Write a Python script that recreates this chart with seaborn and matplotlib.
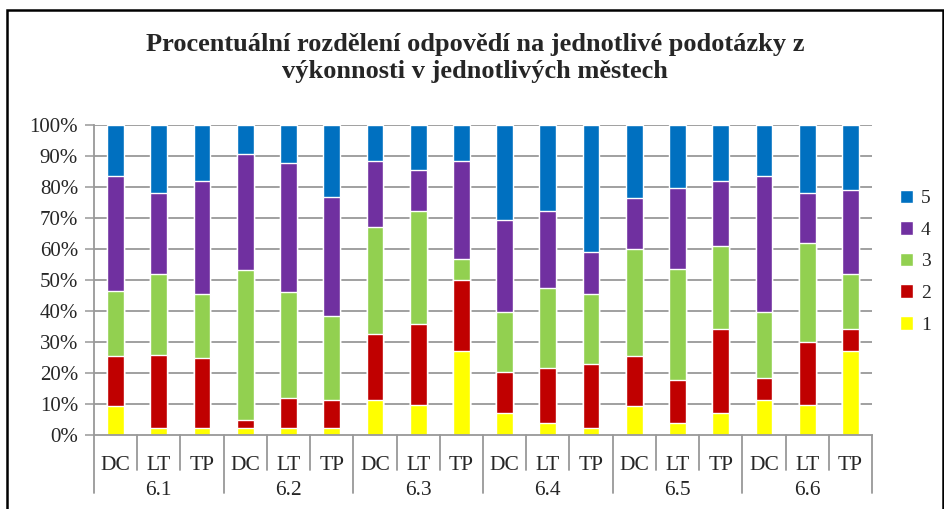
import numpy as np
import pandas as pd
import matplotlib
matplotlib.use("Agg")
import matplotlib.pyplot as plt
import matplotlib.transforms as mtrans
from matplotlib.patches import Patch, Rectangle
import seaborn as sns

questions = ["6.1", "6.2", "6.3", "6.4", "6.5", "6.6"]
cities = ["DC", "LT", "TP"]

# share of answers (%) per bar: 6.1 DC, 6.1 LT, 6.1 TP, 6.2 DC, ... 6.6 TP
ans1 = [9.4, 2.2, 2.2, 2.2, 2.2, 2.2, 11.4, 9.8, 27.2, 7.0, 3.8, 2.2, 9.2, 3.8, 7.0, 11.4, 9.8, 27.2]
ans2 = [16.1, 23.6, 22.6, 2.6, 9.6, 9.2, 21.1, 26.0, 22.7, 13.4, 17.7, 20.6, 16.3, 14.0, 27.2, 7.1, 20.1, 7.0]
ans3 = [21.0, 26.1, 20.7, 48.3, 34.3, 27.0, 34.7, 36.4, 7.0, 19.2, 26.0, 22.7, 34.6, 35.7, 26.9, 21.1, 31.9, 17.7]
ans4 = [37.0, 26.3, 36.4, 37.4, 41.7, 38.5, 21.1, 13.4, 31.4, 29.9, 24.7, 13.6, 16.5, 26.1, 20.8, 43.9, 16.3, 27.2]
ans5 = [16.5, 21.8, 18.1, 9.5, 12.2, 23.1, 11.7, 14.4, 11.7, 30.5, 27.8, 40.9, 23.4, 20.4, 18.1, 16.5, 21.9, 20.9]

answer_labels = ["1", "2", "3", "4", "5"]
colors = ["#FFFF00", "#C00000", "#92D050", "#7030A0", "#0070C0"]

cats = [f"{q} {c}" for q in questions for c in cities]
shares = np.array([ans1, ans2, ans3, ans4, ans5])
shares = shares / shares.sum(axis=0) * 100
cum = np.cumsum(shares, axis=0)
df = pd.DataFrame(cum.T, columns=answer_labels)
df["cat"] = cats

sns.set_style("white")
plt.rcParams["font.family"] = ["Liberation Serif", "DejaVu Serif"]

fig = plt.figure(figsize=(9.45, 5.09), dpi=100)
ax = fig.add_axes([94 / 945, 74 / 509, 778 / 945, 310 / 509])

grid_col = "#999999"
for y in range(10, 101, 10):
    ax.axhline(y, color=grid_col, lw=1.3, zorder=0)

# stacked bars: draw cumulative totals from top segment down
for i in range(4, -1, -1):
    sns.barplot(data=df, x="cat", y=answer_labels[i], order=cats, color=colors[i],
                saturation=1, width=0.39, errorbar=None, ax=ax, zorder=2)

ax.set_xlim(-0.5, len(cats) - 0.5)
ax.set_ylim(0, 100)
ax.set_yticks(range(0, 101, 10))
ax.set_yticklabels([f"{v}%" for v in range(0, 101, 10)], fontsize=15)
ax.tick_params(axis="y", direction="out", length=6.5, width=1.1, color=grid_col, pad=5, left=True)
ax.set_xticks([])
ax.set_xlabel("")
ax.set_ylabel("")
for s in ["top", "right"]:
    ax.spines[s].set_visible(False)
for s in ["left", "bottom"]:
    ax.spines[s].set_color(grid_col)
    ax.spines[s].set_linewidth(1.3)

tr = mtrans.blended_transform_factory(ax.transData, ax.transAxes)
for k in range(len(cats) + 1):
    depth = -0.187 if k % 3 == 0 else -0.113
    ax.plot([k - 0.5, k - 0.5], [0, depth], transform=tr, clip_on=False,
            color=grid_col, lw=1.3)
for i, c in enumerate(cats):
    ax.text(i, -0.113, c.split()[1], transform=tr, ha="center", va="baseline", fontsize=15.5)
for g, q in enumerate(questions):
    ax.text(g * 3 + 1, -0.194, q, transform=tr, ha="center", va="baseline", fontsize=15.5)

handles = [Patch(facecolor=colors[i], label=answer_labels[i]) for i in range(4, -1, -1)]
fig.legend(handles=handles, loc="center left", bbox_to_anchor=(0.952, 0.486),
           frameon=False, fontsize=14, handlelength=0.7, handleheight=0.7,
           handletextpad=0.4, labelspacing=0.72, borderaxespad=0, borderpad=0)

fig.text(475 / 945, 1 - 58 / 509,
         "Procentuální rozdělení odpovědí na jednotlivé podotázky z\nvýkonnosti v jednotlivých městech",
         ha="center", va="center", fontsize=19, fontweight="bold", linespacing=1.25)

fig.add_artist(Rectangle((7 / 945, -0.02), 936 / 945, 1.0 - 10 / 509 + 0.02,
                         transform=fig.transFigure, fill=False, edgecolor="black", lw=1.8))

fig.savefig("out.png", dpi=100)
